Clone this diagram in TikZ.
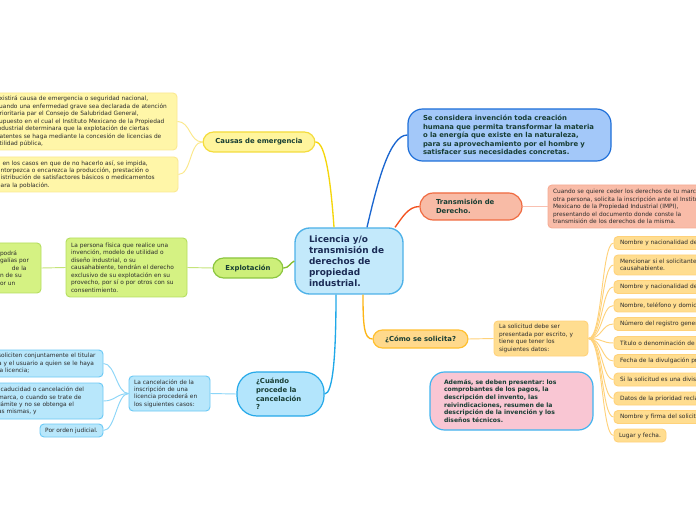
\documentclass[tikz,border=0pt]{standalone}
\usepackage{fontspec}
\setmainfont{DejaVu Sans}
\frenchspacing
\newdimen\pxu \pxu=0.75pt
\newcommand\fsmall{\fontsize{4.4}{5.6}\selectfont}
\newcommand\flabel{\fontsize{5.15}{6.4}\selectfont\bfseries}
\newcommand\fpink{\fontsize{4.56}{5.75}\selectfont\bfseries}
\newcommand\fcenter{\fontsize{6.7}{8.25}\selectfont\bfseries}
\definecolor{txt}{HTML}{2B2B2B}
\definecolor{lbl}{HTML}{173D33}
\definecolor{ctr}{HTML}{1A2B55}
\definecolor{cenF}{HTML}{C3E9FB}\definecolor{cenD}{HTML}{4DB1E8}
\definecolor{seF}{HTML}{A3C8F9}\definecolor{seD}{HTML}{1E6FD9}
\definecolor{trF}{HTML}{F8BBA6}\definecolor{trD}{HTML}{F06A40}
\definecolor{trlF}{HTML}{F9BCA8}\definecolor{trlD}{HTML}{F6AC94}
\definecolor{coF}{HTML}{FFD98C}\definecolor{coD}{HTML}{FFC030}
\definecolor{colF}{HTML}{FFDD90}\definecolor{colD}{HTML}{FFD27A}
\definecolor{piF}{HTML}{F9C6D3}\definecolor{piD}{HTML}{40B4F0}
\definecolor{cuF}{HTML}{B3E5FC}\definecolor{cuD}{HTML}{26A9E9}
\definecolor{culF}{HTML}{B8E7FB}\definecolor{culD}{HTML}{6CC9F5}
\definecolor{exF}{HTML}{CDEF7A}\definecolor{exD}{HTML}{8CC63F}
\definecolor{exlF}{HTML}{D5F283}\definecolor{exlD}{HTML}{B5DE60}
\definecolor{caF}{HTML}{FFF59D}\definecolor{caD}{HTML}{F4DC3C}
\definecolor{calF}{HTML}{FFF6A8}\definecolor{calD}{HTML}{FBE992}
\definecolor{lnS}{HTML}{1A66D0}
\definecolor{lnT}{HTML}{F4511E}\definecolor{lnTl}{HTML}{F9C0B0}
\definecolor{lnE}{HTML}{86BE2E}\definecolor{lnEl}{HTML}{C5E47A}
\definecolor{lnQ}{HTML}{1FA8E8}\definecolor{lnQl}{HTML}{8DD6F8}
\definecolor{lnM}{HTML}{FDB515}\definecolor{lnMl}{HTML}{FFD27A}
\definecolor{lnK}{HTML}{F5D60A}\definecolor{lnKl}{HTML}{FBE88A}
\tikzset{
  base/.style={inner ysep=0pt, align=left, line width=0.8pt},
  leaf/.style={base, rounded corners=3pt, font=\fsmall, text=txt, line width=0.7pt},
  lab/.style={base, font=\flabel, text=lbl, line width=0.9pt},
  main/.style={line width=1pt},
  sub/.style={line width=0.7pt},
}
\begin{document}
\begin{tikzpicture}[x=0.75pt,y=-0.75pt]
\useasboundingbox (0,0) rectangle (696,520);
\clip (0,0) rectangle (696,520);
\fill[white] (0,0) rectangle (696,520);

% centre
\node[base, font=\fcenter, text=ctr, fill=cenF, draw=cenD, line width=1pt, rounded corners=11pt,
  inner xsep=14\pxu, text width=80\pxu, minimum height=66\pxu] (c0) at (349,261)
  {Licencia y/o\\transmisión de\\derechos de\\propiedad\\industrial.};

% se considera
\node[lab, fill=seF, draw=seD, rounded corners=11pt, inner xsep=15\pxu, text width=173\pxu,
  minimum height=52\pxu] (s1) at (509.5,135)
  {Se considera invención toda creación\\humana que permita transformar la materia\\o la energía que existe en la naturaleza,\\para su aprovechamiento por el hombre y\\satisfacer sus necesidades concretas.};

% transmision
\node[lab, fill=trF, draw=trD, rounded corners=10pt, inner xsep=16\pxu, text width=70\pxu,
  minimum height=27\pxu] (t1) at (471,206.5) {Transmisión de\\Derecho.};
\node[leaf, fill=trlF, draw=trlD, inner xsep=5\pxu, text width=202\pxu, minimum height=43\pxu] (t2) at (654,206.5)
  {Cuando se quiere ceder los derechos de tu marca a\\otra persona, solicita la inscripción ante el Instituto\\Mexicano de la Propiedad Industrial (IMPI),\\presentando el documento donde conste la\\transmisión de los derechos de la misma.};

% como se solicita
\node[lab, align=center, fill=coF, draw=coD, rounded corners=7pt, minimum width=95\pxu,
  minimum height=18\pxu] (m1) at (420.5,339) {¿Cómo se solicita?};
\node[leaf, fill=colF, draw=colD, inner xsep=5\pxu, text width=84\pxu, minimum height=35\pxu] (m2) at (541,338.5)
  {La solicitud debe ser\\presentada por escrito, y\\tiene que tener los\\siguientes datos:};
\tikzset{rl/.style={leaf, fill=colF, draw=colD, inner xsep=6\pxu, text width=154\pxu, minimum height=13\pxu}}
\node[rl] (r1) at (697,243) {Nombre y nacionalidad del solicitante.};
\node[rl, minimum height=20\pxu] (r2) at (697,265) {Mencionar si el solicitante es el inventor o\\causahabiente.};
\node[rl] (r3) at (697,287) {Nombre y nacionalidad del inventor.};
\node[rl] (r4) at (697,305.5) {Nombre, teléfono y domicilio del apoderado.};
\node[rl] (r5) at (697,324) {Número del registro general de poderes.};
\node[rl] (r6) at (697,343) {Título o denominación de la invención.};
\node[rl] (r7) at (697,361) {Fecha de la divulgación previa.};
\node[rl] (r8) at (697,379.5) {Si la solicitud es una divisional.};
\node[rl] (r9) at (697,398.5) {Datos de la prioridad reclamada.};
\node[rl] (r10) at (697,417) {Nombre y firma del solicitante.};
\node[leaf, align=center, fill=colF, draw=colD, minimum width=52\pxu, minimum height=13\pxu] (r11) at (640,435.5) {Lugar y fecha.};

% pink
\node[base, font=\fpink, text=lbl, fill=piF, draw=piD, line width=0.9pt, rounded corners=11pt,
  inner xsep=14\pxu, text width=135\pxu, minimum height=58\pxu] (p1) at (511.5,401)
  {Además, se deben presentar: los\\comprobantes de los pagos, la\\descripción del invento, las\\reivindicaciones, resumen de la\\descripción de la invención y los\\diseños técnicos.};

% cuando procede
\node[lab, fill=cuF, draw=cuD, rounded corners=15pt, inner xsep=19\pxu, text width=49\pxu,
  minimum height=44\pxu] (q1) at (280.5,394) {¿Cuándo\\procede la\\cancelación\\?};
\node[leaf, fill=culF, draw=culD, inner xsep=5\pxu, text width=71\pxu, minimum height=35\pxu] (q2) at (169.5,393.5)
  {La cancelación de la\\inscripción de una\\licencia procederá en\\los siguientes casos:};
\node[leaf, fill=culF, draw=culD, inner xsep=4\pxu, text width=101\pxu, minimum height=27\pxu] (b1) at (48.5,363.5)
  {soliciten conjuntamente el titular\\a y el usuario a quien se le haya\\la licencia;};
\node[leaf, fill=culF, draw=culD, inner xsep=4\pxu, text width=101\pxu, minimum height=36\pxu] (b2) at (48.5,401)
  {\hspace*{2pt}caducidad o cancelación del\\marca, o cuando se trate de\\rámite y no se obtenga el\\as mismas, y};
\node[leaf, align=center, fill=culF, draw=culD, minimum width=63\pxu, minimum height=13\pxu] (b3) at (71.5,430.5)
  {Por orden judicial.};

% explotacion
\node[lab, align=center, fill=exF, draw=exD, rounded corners=8pt, minimum width=70\pxu,
  minimum height=20\pxu] (e1) at (248,268) {Explotación};
\node[leaf, fill=exlF, draw=exlD, inner xsep=5\pxu, text width=111\pxu, minimum height=59\pxu] (g1) at (126.5,267.5)
  {La persona física que realice una\\invención, modelo de utilidad o\\diseño industrial, o su\\causahabiente, tendrán el derecho\\exclusivo de su explotación en su\\provecho, por sí o por otros con su\\consentimiento.};
\node[leaf, fill=exlF, draw=exlD, inner xsep=6\pxu, text width=35\pxu, minimum height=50\pxu] (g0) at (17.5,268)
  {podrá\\galías por\\\hspace*{9pt}de la\\n de su\\or un};

% causas
\node[lab, align=center, fill=caF, draw=caD, rounded corners=8pt, minimum width=112\pxu,
  minimum height=20\pxu] (k1) at (259,142) {Causas de emergencia};
\node[leaf, fill=calF, draw=calD, inner xsep=5\pxu, text width=176\pxu, minimum height=57\pxu] (y1) at (84,121.5)
  {Existirá causa de emergencia o seguridad nacional,\\cuando una enfermedad grave sea declarada de atención\\prioritaria par el Consejo de Salubridad General,\\supuesto en el cual el Instituto Mexicano de la Propiedad\\Industrial determinara que la explotación de ciertas\\patentes se haga mediante la concesión de licencias de\\utilidad pública,};
\node[leaf, fill=calF, draw=calD, inner xsep=5\pxu, text width=176\pxu, minimum height=35\pxu] (y2) at (85,174.5)
  {o en los casos en que de no hacerlo así, se impida,\\entorpezca o encarezca la producción, prestación o\\distribución de satisfactores básicos o medicamentos\\para la población.};

% connectors from centre
\draw[main, lnK] (k1.east) .. controls (326,142) and (331,185) .. ([xshift=-15\pxu]c0.north);
\draw[main, lnS] (s1.west) .. controls (390,135) and (378,180) .. ([xshift=18\pxu]c0.north);
\draw[main, lnT] (t1.west) .. controls (408,206.5) and (402,218) .. ([xshift=46\pxu]c0.north);
\draw[main, lnE] (e1.east) .. controls (289,268) and (290,263) .. (c0.west);
\draw[main, lnQ] ([xshift=-13\pxu]c0.south) .. controls (336,355) and (333,394) .. (q1.east);
\draw[main, lnM] ([xshift=14\pxu]c0.south) .. controls (363,325) and (364,339) .. (m1.west);

% secondary
\draw[sub, lnTl] (t1.east) -- (t2.west);
\draw[sub, lnMl] (m1.east) -- (m2.west);
\foreach \r in {r1,r2,r3,r4,r5,r6,r7,r8,r9,r10,r11}
  \draw[sub, lnMl] (m2.east) .. controls +(14,0) and +(-12,0) .. (\r.west);
\draw[sub, lnQl] (q1.west) -- (q2.east);
\foreach \b in {b1,b2,b3}
  \draw[sub, lnQl] (q2.west) .. controls +(-12,0) and +(12,0) .. (\b.east);
\draw[sub, lnEl] (e1.west) -- (g1.east);
\draw[sub, lnEl] (g1.west) -- (g0.east);
\draw[sub, lnKl] (k1.west) .. controls +(-13,0) and +(13,0) .. (y1.east);
\draw[sub, lnKl] (k1.west) .. controls +(-13,0) and +(13,0) .. (y2.east);
\end{tikzpicture}
\end{document}
